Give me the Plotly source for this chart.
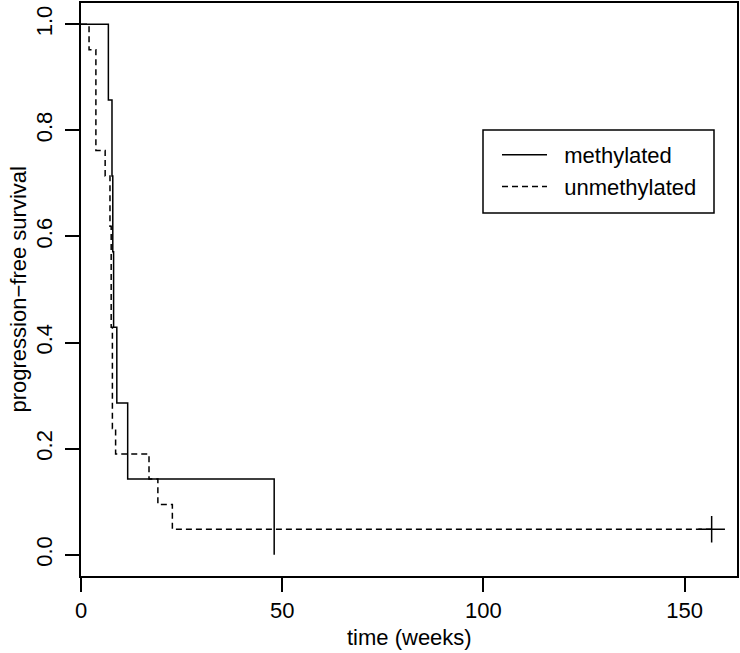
import plotly.graph_objects as go

# Kaplan-Meier step data (time in weeks, survival)
meth_time = [0, 6.8, 7.7, 7.9, 8.1, 8.9, 11.6, 48.0]
meth_surv = [1.0, 0.857, 0.714, 0.571, 0.429, 0.286, 0.143, 0.0]

unmeth_time = [0, 2.0, 3.7, 6.0, 7.2, 7.5, 7.8, 8.6, 16.9, 19.1, 22.7, 156.7]
unmeth_surv = [1.0, 0.952, 0.762, 0.714, 0.619, 0.429, 0.238, 0.190, 0.143, 0.095, 0.048, 0.048]

censor_time = [156.7]
censor_surv = [0.048]

x_ticks = [0, 50, 100, 150]
y_ticks = [0.0, 0.2, 0.4, 0.6, 0.8, 1.0]
y_ticklabels = ["0.0", "0.2", "0.4", "0.6", "0.8", "1.0"]

x_title = "time (weeks)"
y_title = "progression\u2212free survival"

FONT = "Liberation Sans, Arial, Helvetica, sans-serif"
FS = 22
LW = 1.5
NB = "\u00a0\u00a0"

fig = go.Figure()
fig.add_trace(go.Scatter(
    x=meth_time, y=meth_surv, mode="lines", line_shape="hv",
    line=dict(color="black", width=LW), name=NB + "methylated"))
fig.add_trace(go.Scatter(
    x=unmeth_time, y=unmeth_surv, mode="lines", line_shape="hv",
    line=dict(color="black", width=LW, dash="6px,4px"), name=NB + "unmethylated"))
fig.add_trace(go.Scatter(
    x=censor_time, y=censor_surv, mode="markers", showlegend=False,
    marker=dict(symbol="cross-thin", size=19, line=dict(color="black", width=LW))))

L, R, T, B = 81, 3, 3, 77
W, H = 740, 653
pw, ph = W - L - R, H - T - B

def px2paper_x(p):
    return (p - L) / pw

def px2paper_y(p):
    return (H - B - p) / ph

fig.add_shape(type="rect", xref="paper", yref="paper",
              x0=px2paper_x(483), x1=px2paper_x(714),
              y0=px2paper_y(213), y1=px2paper_y(130),
              line=dict(color="black", width=LW), fillcolor="rgba(0,0,0,0)")

# axis titles (R-style placement)
fig.add_annotation(text=x_title, xref="paper", yref="paper",
                   x=0.5, y=px2paper_y(637), xanchor="center", yanchor="middle",
                   showarrow=False, font=dict(family=FONT, size=FS, color="black"))
fig.add_annotation(text=y_title, xref="paper", yref="paper",
                   x=px2paper_x(18), y=0.5, xanchor="center", yanchor="middle",
                   textangle=-90, showarrow=False,
                   font=dict(family=FONT, size=FS, color="black"))

fig.update_layout(
    width=W, height=H,
    margin=dict(l=L, r=R, t=T, b=B, pad=0),
    paper_bgcolor="white", plot_bgcolor="white",
    font=dict(family=FONT, size=FS, color="black"),
    showlegend=True,
    hovermode=False,
    legend=dict(x=px2paper_x(497), y=px2paper_y(134), xanchor="left", yanchor="top",
                bgcolor="rgba(0,0,0,0)", borderwidth=0,
                font=dict(family=FONT, size=FS, color="black"),
                itemwidth=45, tracegroupgap=0),
    xaxis=dict(range=[0, 163.0], tickvals=x_ticks, ticktext=[str(v) for v in x_ticks],
               showgrid=False, zeroline=False, showline=True, mirror=True,
               linecolor="black", linewidth=LW, ticks="outside", ticklen=14,
               tickwidth=LW, tickcolor="black", automargin=False),
    yaxis=dict(range=[-0.04, 1.04], tickvals=y_ticks, ticktext=y_ticklabels,
               tickangle=-90, ticklabelstandoff=4,
               showgrid=False, zeroline=False, showline=True, mirror=True,
               linecolor="black", linewidth=LW, ticks="outside", ticklen=14,
               tickwidth=LW, tickcolor="black", automargin=False),
)

fig.write_html("out.html", config={"displayModeBar": False},
               post_script="document.body.style.margin='0px';document.body.style.overflow='hidden';")
